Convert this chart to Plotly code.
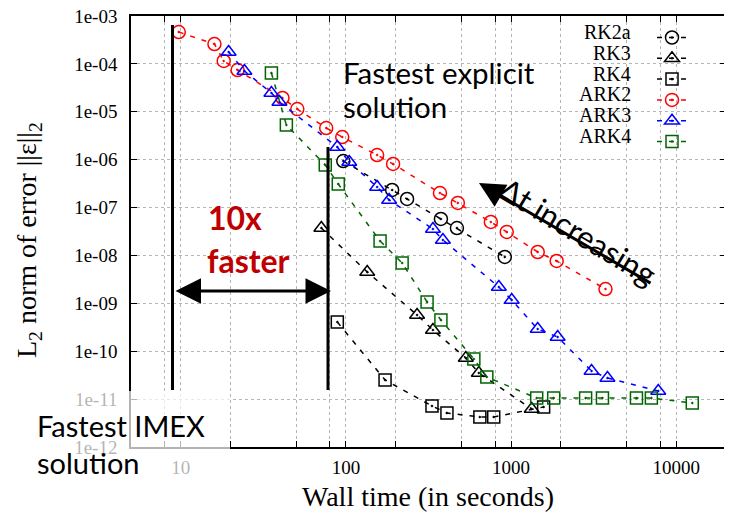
import plotly.graph_objects as go

# ---------------- data ----------------
rk2a_t = [96.4, 190.5, 234.6, 376, 470, 916]
rk2a_e = [9.37e-7, 2.33e-7, 1.51e-7, 5.77e-8, 3.74e-8, 9.29e-9]

rk3_t = [71.0, 134.6, 269.6, 336.5, 532, 638, 1333]
rk3_e = [3.74e-8, 4.51e-9, 5.71e-10, 2.77e-10, 7.23e-11, 3.51e-11, 6.22e-12]

rk4_t = [88.7, 172.6, 332, 409, 647, 785, 1574]
rk4_e = [4.07e-10, 2.51e-11, 7.18e-12, 5.13e-12, 4.23e-12, 4.23e-12, 6.84e-12]

ark2_t = [9.73, 16.0, 18.2, 22.1, 41.3, 50.8, 76.0, 95.0, 154.5, 193, 371, 476, 754, 941, 1449, 1888, 3727]
ark2_e = [4.63e-4, 2.60e-4, 1.15e-4, 7.45e-5, 1.94e-5, 1.14e-5, 4.58e-6, 2.97e-6, 1.25e-6, 8.13e-7,
          2.01e-7, 1.25e-7, 5.0e-8, 3.09e-8, 1.18e-8, 7.66e-9, 1.99e-9]

ark3_t = [19.5, 24.3, 35.4, 39.6, 88.7, 104.8, 154.5, 182.7, 336.5, 386.5, 843, 1009, 1449, 1914, 3069, 3831, 7780]
ark3_e = [1.77e-4, 7.11e-5, 2.47e-5, 1.60e-5, 1.84e-6, 8.93e-7, 2.69e-7, 1.44e-7, 3.56e-8, 2.10e-8,
          2.19e-9, 1.17e-9, 2.91e-10, 1.98e-10, 3.86e-11, 2.76e-11, 1.48e-11]

ark4_t = [35.4, 43.6, 75.0, 89.9, 161, 219, 310, 376, 595, 713, 1429, 1811, 2826, 3574, 5741, 7067, 12500]
ark4_e = [6.46e-5, 5.30e-6, 7.74e-7, 3.10e-7, 2.00e-8, 6.95e-9, 1.07e-9, 4.49e-10, 6.89e-11, 2.90e-11,
          1.05e-11, 1.05e-11, 1.05e-11, 1.05e-11, 1.05e-11, 1.05e-11, 8.30e-12]

series_names = ["RK2a", "RK3", "RK4", "ARK2", "ARK3", "ARK4"]

y_tickvals = [1e-12, 1e-11, 1e-10, 1e-9, 1e-8, 1e-7, 1e-6, 1e-5, 1e-4, 1e-3]
y_ticktext = ["1e-12", "1e-11", "1e-10", "1e-09", "1e-08", "1e-07", "1e-06", "1e-05", "1e-04", "1e-03"]
x_tickvals = [8, 10, 20, 50, 80, 100, 200, 500, 800, 1000, 2000, 5000, 8000, 10000]
x_ticktext = ["", "10", "", "", "", "100", "", "", "", "1000", "", "", "", "10000"]

# ---------------- layout helpers ----------------
# The page adds an 8px body margin, so the figure is 8px smaller and every
# position below is given in page pixels.
OFF = 8
W, H = 732 - OFF, 514 - OFF
PL, PR, PT, PB = 131, 726, 16, 447          # plot area in page pixels
L, R, T, B = PL - OFF, 732 - PR, PT - OFF, 514 - PB
PW, PH = PR - PL, PB - PT


def xp(px):
    return (px - PL) / PW


def yp(py):
    return (PB - py) / PH


SERIF = "Liberation Serif"
SANS = "Lato"
DASH = "5px,7px"

styles = [
    (rk2a_t, rk2a_e, "black", "circle-open-dot", 13),
    (rk3_t, rk3_e, "black", "triangle-up-open-dot", 13),
    (rk4_t, rk4_e, "black", "square-open-dot", 12),
    (ark2_t, ark2_e, "#ff0000", "circle-open-dot", 13),
    (ark3_t, ark3_e, "#0000ff", "triangle-up-open-dot", 13),
    (ark4_t, ark4_e, "#006400", "square-open-dot", 12),
]

fig = go.Figure()
for name, (xs, ys, col, sym, sz) in zip(series_names, styles):
    fig.add_trace(go.Scatter(
        x=xs, y=ys, name=name, legendgroup=name, mode="lines+markers",
        line=dict(color=col, width=1.5, dash=DASH),
        marker=dict(symbol=sym, size=sz, color=col, line=dict(color=col, width=1.5)),
    ))

axis_common = dict(
    showline=True, linecolor="black", linewidth=1.5, mirror="allticks",
    ticks="inside", ticklen=6, tickwidth=1, tickcolor="black",
    showgrid=True, gridcolor="#b5b5b5", griddash="dot", gridwidth=1,
    zeroline=False, tickfont=dict(family=SERIF, size=19, color="black"),
    automargin=False, ticklabeloverflow="allow",
)

fig.update_xaxes(type="log", range=[0.69897, 4.30103], tickmode="array",
                 tickvals=x_tickvals, ticktext=x_ticktext, ticklabelstandoff=2, **axis_common)
fig.update_yaxes(type="log", range=[-12.0001, -2.9999], tickmode="array",
                 tickvals=y_tickvals, ticktext=y_ticktext, ticklabelstandoff=8, **axis_common)

annotations = []
# axis titles
annotations.append(dict(text="Wall time (in seconds)", x=xp(428), y=yp(497), xref="paper", yref="paper",
                        showarrow=False, xanchor="center", yanchor="middle",
                        font=dict(family=SERIF, size=28, color="black")))
annotations.append(dict(text="L<sub>2</sub> norm of error ||ε||<sub>2</sub>", x=xp(28), y=yp(240),
                        xref="paper", yref="paper", showarrow=False, textangle=-90,
                        xanchor="center", yanchor="middle",
                        font=dict(family=SERIF, size=28, color="black")))
# legend labels (right aligned, left of the legend symbols)
for name, cy in zip(series_names, [32, 52.8, 73.6, 94.4, 115.2, 136]):
    annotations.append(dict(text=name, x=xp(633), y=yp(cy), xref="paper", yref="paper",
                            showarrow=False, xanchor="right", yanchor="middle",
                            font=dict(family=SERIF, size=20, color="black")))


def note(txt, px, py, size=30, color="black", bold=False, anchor="left"):
    t = f"<b>{txt}</b>" if bold else txt
    annotations.append(dict(text=t, x=xp(px), y=yp(py), xref="paper", yref="paper",
                            showarrow=False, xanchor=anchor, yanchor="middle",
                            font=dict(family=SANS, size=size, color=color)))


note("Fastest explicit", 341, 72, size=29.5)
note("solution", 341, 107, size=29.5)
note("Fastest IMEX", 35, 425, size=29)
note("solution", 35, 462, size=29)
note("10x", 206, 217, size=32, color="#c00000", bold=True)
note("faster", 205, 260, size=32, color="#c00000", bold=True)

annotations.append(dict(text="Δt increasing", x=xp(578), y=yp(231), xref="paper", yref="paper",
                        showarrow=False, textangle=31, xanchor="center", yanchor="middle",
                        font=dict(family=SANS, size=31, color="black")))
# arrows
annotations.append(dict(text="", x=xp(331), y=yp(291), xref="paper", yref="paper",
                        showarrow=True, ax=-157, ay=0, arrowside="end+start",
                        arrowhead=2, startarrowhead=2, arrowwidth=3, arrowsize=1.7,
                        startarrowsize=1.7, arrowcolor="black"))
annotations.append(dict(text="", x=xp(479), y=yp(183), xref="paper", yref="paper",
                        showarrow=True, ax=173, ay=101, arrowhead=2, arrowwidth=3,
                        arrowsize=1.7, arrowcolor="black"))

shapes = [
    dict(type="line", xref="paper", yref="paper", x0=xp(172.5), x1=xp(172.5), y0=yp(390), y1=yp(25),
         line=dict(color="black", width=3)),
    dict(type="line", xref="paper", yref="paper", x0=xp(328), x1=xp(328), y0=yp(390), y1=yp(147),
         line=dict(color="black", width=3)),
    dict(type="rect", xref="paper", yref="paper", x0=xp(0), x1=xp(230), y0=yp(520), y1=yp(391),
         fillcolor="rgba(255,255,255,0.7)", line=dict(width=0), layer="above"),
]

fig.update_layout(
    width=W, height=H, autosize=False,
    margin=dict(l=L, r=R, t=T, b=B, pad=0, autoexpand=False),
    paper_bgcolor="white", plot_bgcolor="white",
    annotations=annotations, shapes=shapes,
    showlegend=True,
    legend=dict(x=xp(652), y=yp(23), xanchor="left", yanchor="top",
                bgcolor="rgba(0,0,0,0)", borderwidth=0, tracegroupgap=1.8,
                font=dict(family=SERIF, size=1, color="rgba(0,0,0,0)")),
)

fig.write_html("out.html")
